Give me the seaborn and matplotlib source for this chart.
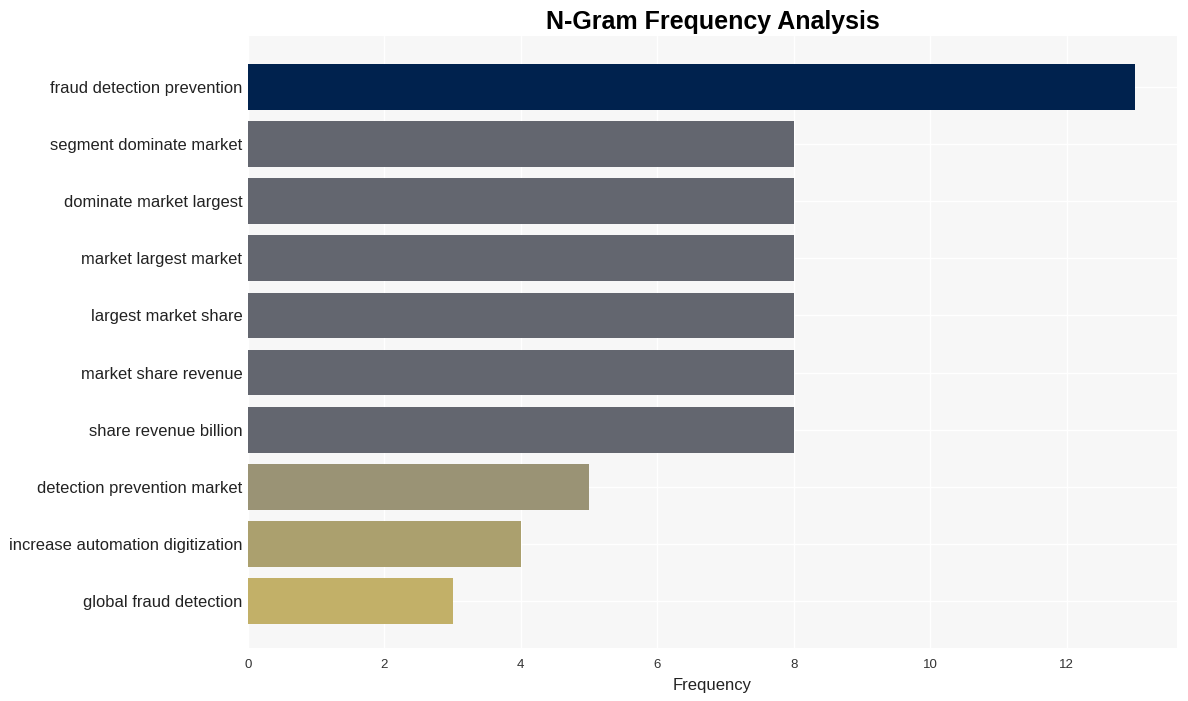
import matplotlib
matplotlib.use("Agg")
import matplotlib.pyplot as plt
import seaborn as sns
import pandas as pd

ngrams = [
    "fraud detection prevention",
    "segment dominate market",
    "dominate market largest",
    "market largest market",
    "largest market share",
    "market share revenue",
    "share revenue billion",
    "detection prevention market",
    "increase automation digitization",
    "global fraud detection",
]
frequency = [13, 8, 8, 8, 8, 8, 8, 5, 4, 3]
bar_colors = ["#00224e", "#63666f", "#63666f", "#63666f", "#63666f",
              "#63666f", "#63666f", "#9a9375", "#aba06e", "#c2b068"]

df = pd.DataFrame({"ngram": ngrams, "freq": frequency})

sns.set_theme(style="whitegrid")
plt.rcParams["font.family"] = ["Liberation Sans", "DejaVu Sans"]

fig = plt.figure(figsize=(11.88, 7.01), dpi=100)
ax = fig.add_axes([248 / 1188, 1 - 648 / 701, (1177 - 248) / 1188, (648 - 36) / 701])
ax.set_facecolor("#f7f7f7")

sns.barplot(data=df, x="freq", y="ngram", hue="ngram", palette=bar_colors,
            width=0.8, saturation=1, legend=False, ax=ax, zorder=2,
            linewidth=0, edgecolor="none")

ax.set_xlim(0, 13.62)
ax.set_ylim(9.82, -0.89)
ax.set_xticks([0, 2, 4, 6, 8, 10, 12])
ax.grid(True, color="white", linewidth=1.0, zorder=0)
ax.set_axisbelow(True)
for s in ax.spines.values():
    s.set_visible(False)
ax.tick_params(axis="x", labelsize=9.5, colors="#333333", length=0, pad=8)
ax.tick_params(axis="y", labelsize=11.9, colors="#222222", length=0, pad=4)
ax.set_ylabel("")
ax.set_xlabel("Frequency", fontsize=12, color="#222222", labelpad=5)
ax.set_title("N-Gram Frequency Analysis", fontsize=18, fontweight="bold", color="black", pad=5)

fig.savefig("out.png", dpi=100)
